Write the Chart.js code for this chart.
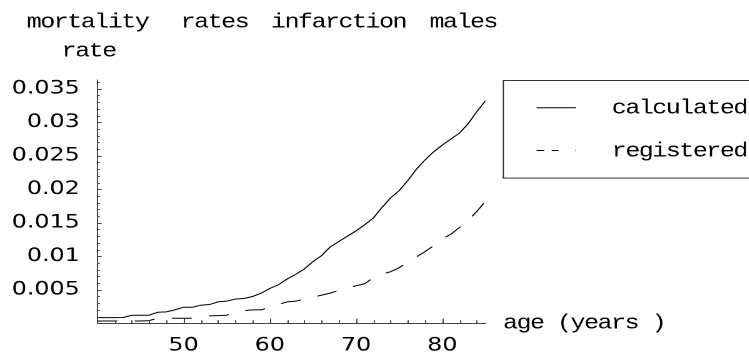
<!DOCTYPE html>
<html>
<head>
<meta charset="utf-8">
<script src="https://cdn.jsdelivr.net/npm/chart.js@4.4.1/dist/chart.umd.min.js"></script>
<style>
html, body { margin: 0; padding: 0; background: #fff; overflow: hidden; }
#wrap { width: 749px; height: 356px; overflow: hidden; }
/* the original graphic is stretched sideways, so draw narrow and widen */
#stretch { width: 599.2px; height: 356px; transform: scaleX(1.25); transform-origin: 0 0; }
</style>
</head>
<body>
<div id="wrap"><div id="stretch"><canvas id="chart"></canvas></div></div>
<script>
const ages = [40, 41, 42, 43, 44, 45, 46, 47, 48, 49, 50, 51, 52, 53, 54, 55, 56, 57, 58, 59, 60, 61, 62,
              63, 64, 65, 66, 67, 68, 69, 70, 71, 72, 73, 74, 75, 76, 77, 78, 79, 80, 81, 82, 83, 84, 85];
const calculated = [0.00084, 0.00084, 0.00084, 0.00086, 0.0012, 0.0012, 0.0012, 0.00165, 0.0017, 0.002,
                    0.0024, 0.0024, 0.0027, 0.0028, 0.0032, 0.0033, 0.0036, 0.0037, 0.004, 0.0045,
                    0.0052, 0.00575, 0.0066, 0.0073, 0.0081, 0.0092, 0.0101, 0.0114, 0.0122, 0.013,
                    0.0138, 0.0147, 0.0157, 0.0173, 0.0187, 0.0198, 0.0213, 0.023, 0.0244, 0.0256,
                    0.0266, 0.0275, 0.0284, 0.0298, 0.0316, 0.0332];
const registered = [0.00035, 0.00035, 0.00035, 0.00035, 0.00035, 0.00035, 0.0004, 0.00075, 0.00075, 0.00075,
                    0.00075, 0.00075, 0.0009, 0.0011, 0.00115, 0.0012, 0.0017, 0.0019, 0.002, 0.002,
                    0.0024, 0.0028, 0.0032, 0.0033, 0.0036, 0.0039, 0.0042, 0.0045, 0.0049, 0.0053,
                    0.0056, 0.0059, 0.0068, 0.0073, 0.0077, 0.0083, 0.0092, 0.0099, 0.0107, 0.0116,
                    0.0126, 0.0133, 0.0143, 0.0154, 0.0167, 0.0182];
const seriesNames = ['calculated', 'registered'];
const xTicks = [50, 60, 70, 80];
const yTicks = [0.005, 0.01, 0.015, 0.02, 0.025, 0.03, 0.035];
const titleWords = ['mortality', 'rates', 'infarction', 'males'];
const yAxisTitle = 'rate';
const xAxisTitle = 'age (years )';

const MONO = '"Liberation Mono", "Nimbus Mono PS", "Nimbus Mono L", FreeMono, "Courier 10 Pitch", Courier, "DejaVu Serif", serif';
const AXIS = '#444';

function monoText(ctx, text, x, y){
    ctx.font = '20px ' + MONO;
    ctx.letterSpacing = '-1.2px';
    ctx.fillStyle = '#000';
    ctx.textAlign = 'left';
    ctx.textBaseline = 'alphabetic';
    ctx.fillText(text, x, y);
}

// ticks pointing into the plot, like the original
const inwardTicks = {
    id: 'inwardTicks',
    afterDraw(chart){
        const ctx = chart.ctx;
        const x = chart.scales.x, y = chart.scales.y;
        ctx.save();
        ctx.strokeStyle = AXIS;
        ctx.lineWidth = 1;
        ctx.beginPath();
        for (let i = 1; i * 0.001 <= y.max; i++){
            const py = Math.round(y.getPixelForValue(i * 0.001)) + 0.5;
            const len = (i % 5 == 0) ? 3.5 : 2;
            ctx.moveTo(x.left, py);
            ctx.lineTo(x.left + len, py);
        }
        for (let a = 42; a <= 84; a += 2){
            const px = Math.round(x.getPixelForValue(a)) + 0.5;
            const len = (a % 10 == 0) ? 4.5 : 3;
            ctx.moveTo(px, y.bottom);
            ctx.lineTo(px, y.bottom - len);
        }
        ctx.stroke();
        ctx.restore();
    }
};

const labelsAndLegend = {
    id: 'labelsAndLegend',
    afterDraw(chart){
        const ctx = chart.ctx;
        ctx.save();
        const wordX = [21.4, 144.5, 216.8, 343.6];
        titleWords.forEach((w, i) => monoText(ctx, w, wordX[i], 27.5));
        monoText(ctx, yAxisTitle, 49.3, 56.7);
        monoText(ctx, xAxisTitle, 402.4, 328.3);

        // legend box, running off the right edge
        ctx.strokeStyle = '#333';
        ctx.lineWidth = 1;
        ctx.strokeRect(402.7, 80.5, 260, 97.6);

        const rows = [107.7, 150.5];
        chart.data.datasets.forEach((ds, i) => {
            ctx.beginPath();
            ctx.strokeStyle = ds.borderColor;
            ctx.lineWidth = 1;
            ctx.setLineDash(i == 0 ? [] : [6, 6, 5.5, 13.5, 2]);
            ctx.moveTo(429.3, rows[i]);
            ctx.lineTo(460.8, rows[i]);
            ctx.stroke();
            ctx.setLineDash([]);
            monoText(ctx, ds.label, 489.4, rows[i] + 5.8);
        });
        ctx.restore();
    }
};

function makeSeries(values){
    return values.map((v, i) => ({x: ages[i], y: v}));
}

window.onload = () => {
    const ctx = document.getElementById('chart');
    new Chart(ctx, {
        type: 'line',
        data: {
            datasets: [{
                label: seriesNames[0],
                data: makeSeries(calculated),
                borderColor: '#000',
                borderWidth: 1,
                pointRadius: 0,
                tension: 0
            }, {
                label: seriesNames[1],
                data: makeSeries(registered),
                borderColor: '#000',
                borderWidth: 1,
                borderDash: [16, 14],
                pointRadius: 0,
                tension: 0
            }]
        },
        options: {
            responsive: true,
            maintainAspectRatio: false,
            animation: false,
            devicePixelRatio: 2,
            layout: { padding: { left: 0, top: 80, right: 210.8, bottom: 0 } },
            plugins: {
                legend: { display: false },
                title: { display: false },
                tooltip: { enabled: false }
            },
            scales: {
                x: {
                    type: 'linear',
                    min: 40,
                    max: 85,
                    grid: { display: false, drawTicks: false },
                    border: { display: true, color: AXIS, width: 1 },
                    afterBuildTicks: s => { s.ticks = xTicks.map(v => ({value: v})); },
                    afterFit: s => { s.height = 32.7; },
                    ticks: {
                        font: { family: 'DejaVu Sans', size: 19 },
                        color: '#000',
                        padding: 11,
                        autoSkip: false,
                        maxRotation: 0,
                        callback: v => String(v)
                    }
                },
                y: {
                    type: 'linear',
                    min: 0,
                    max: 0.0363,
                    grid: { display: false, drawTicks: false },
                    border: { display: true, color: AXIS, width: 1 },
                    afterBuildTicks: s => { s.ticks = yTicks.map(v => ({value: v})); },
                    afterFit: s => { s.width = 77.8; },
                    ticks: {
                        font: { family: 'DejaVu Sans', size: 19 },
                        color: '#000',
                        padding: 14,
                        autoSkip: false,
                        callback: v => String(+v.toFixed(4))
                    }
                }
            }
        },
        plugins: [inwardTicks, labelsAndLegend]
    });
};
</script>
</body>
</html>
